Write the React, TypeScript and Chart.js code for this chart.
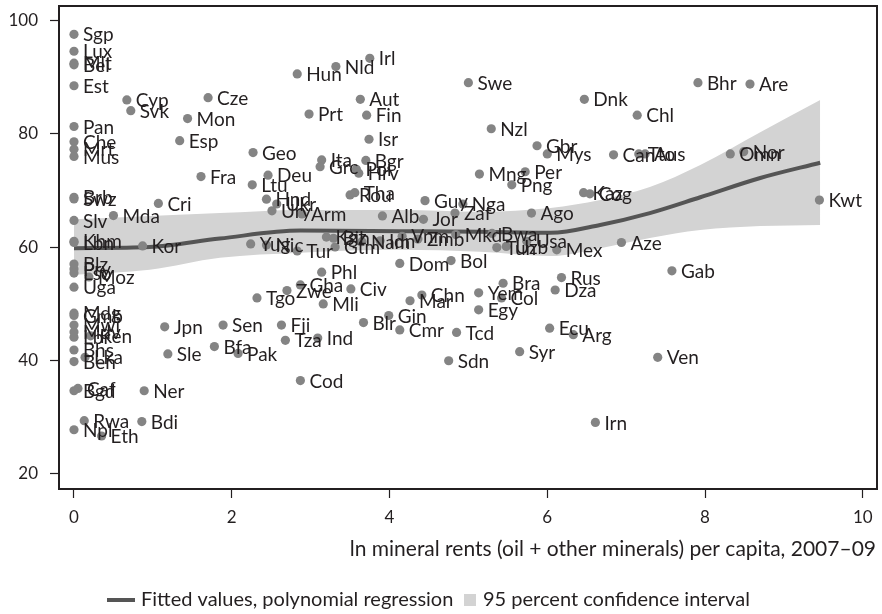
import React, { useEffect, useRef } from "react";
import { Chart, registerables } from "chart.js";

Chart.register(...registerables);

// ---- data ----
const countryCodes = [
  "Sgp","Lux","Mlt","Bel","Est","Pan","Che","Mrt","Mus","Brb","Swz","Slv","Khm","Lbn","Blz","Pry","Lso","Moz","Uga","Mdg","Gmb","Mwi","Mdv","Lbr","Ken","Bhs","Lka","Ben","Caf","Bgd","Rwa","Npl","Eth",
  "Cyp","Svk","Cze","Mon","Esp","Geo","Fra","Deu","Ltu","Cri","Mda","Kor","Yug","Nic","Tur","Hnd","Ukr","Ury","Arm",
  "Hun","Nld","Irl","Swe","Aut","Prt","Fin","Isr","Nzl","Gbr","Mys","Ita","Grc","Bgr","Pol","Hrv","Mng","Per","Rou","Tha","Alb",
  "Kgz","Bih","Gtm","Nam","Idn","Vnm","Zmb","Mkd","Bwa","Guy","Nga","Jor","Zaf","Ago","Png","Tun","Uzb","Usa","Mex","Aze",
  "Dom","Bol","Phl","Gha","Zwe","Civ","Mli","Tgo","Mar","Chn","Yem","Bra","Col","Egy","Gin","Blr","Cmr","Tcd","Ecu","Arg","Rus","Dza","Syr","Sdn","Ind","Tza","Cod",
  "Jpn","Sen","Fji","Sle","Bfa","Pak","Ner","Bdi",
  "Dnk","Chl","Bhr","Are","Can","Tto","Aus","Omn","Nor","Kaz","Cog","Kwt","Gab","Ven","Irn"
];
const rentsLn = [
  0,0,0,0,0,0,0,0,0,0,0,0,0,0,0,0,0,0.19,0,0,0,0,0,0,0.21,0,0.14,0,0.05,0,0.13,0,0.35,
  0.67,0.72,1.70,1.44,1.34,2.27,1.61,2.46,2.26,1.07,0.50,0.87,2.24,2.44,2.83,2.44,2.57,2.51,2.89,
  2.83,3.32,3.75,5.00,3.63,2.98,3.71,3.74,5.29,5.87,6.00,3.14,3.12,3.70,3.58,3.61,5.14,5.72,3.50,3.56,3.91,
  3.20,3.29,3.31,3.65,3.88,4.16,4.36,4.84,5.30,4.45,4.93,4.43,4.83,5.80,5.55,5.36,5.48,5.74,6.12,6.94,
  4.13,4.78,3.14,2.87,2.70,3.51,3.16,2.32,4.26,4.41,5.13,5.44,5.42,5.13,3.99,3.67,4.13,4.85,6.03,6.33,6.18,6.10,5.65,4.75,3.09,2.68,2.87,
  1.15,1.89,2.63,1.19,1.78,2.08,0.89,0.86,
  6.47,7.14,7.91,8.57,6.84,7.16,7.24,8.32,8.49,6.46,6.54,9.45,7.58,7.40,6.61
];
const scores = [
  97.6,94.6,92.5,92.2,88.5,81.3,78.6,77.3,76.0,68.8,68.5,64.7,61.0,60.8,57.0,56.1,55.4,54.7,52.9,48.3,47.9,46.2,45.0,44.05,44.3,41.8,40.5,39.75,35.0,34.6,29.3,27.7,26.6,
  86.0,84.1,86.4,82.7,78.8,76.7,72.45,72.7,71.0,67.7,65.55,60.2,60.55,60.35,59.3,68.45,67.6,66.4,65.85,
  90.6,91.9,93.35,89.05,86.1,83.5,83.3,79.05,80.9,77.9,76.45,75.4,74.2,75.3,73.75,73.05,72.9,73.3,69.2,69.6,65.5,
  61.75,61.55,60.0,60.95,61.1,61.9,61.4,62.2,62.4,68.2,67.6,64.9,66.0,66.0,71.0,59.9,60.1,61.0,59.5,60.8,
  57.1,57.6,55.55,53.3,52.3,52.6,49.95,51.0,50.5,51.5,51.9,53.6,51.0,48.9,47.9,46.65,45.35,44.9,45.65,44.5,54.6,52.4,41.5,39.9,43.9,43.5,36.4,
  45.9,46.2,46.2,41.1,42.4,41.2,34.6,29.15,
  86.1,83.3,89.05,88.8,76.3,76.45,76.45,76.45,76.85,69.6,69.4,68.3,55.8,40.5,29.0
];

const fitX = [0, 0.96, 1.85, 2.87, 4.13, 5.15, 6.04, 6.67, 7.30, 7.94, 8.70, 9.46];
const fitY = [59.8, 60.0, 61.5, 62.9, 62.8, 62.7, 62.5, 63.9, 66.0, 68.8, 72.2, 74.9];
const ciUpper = [64.9, 65.5, 66.0, 66.55, 66.55, 66.25, 66.9, 68.3, 70.6, 74.5, 80.3, 86.0];
const ciLower = [55.1, 56.0, 58.1, 59.0, 59.5, 59.15, 58.4, 59.8, 61.6, 63.0, 63.7, 63.9];

const xTicks = [0, 2, 4, 6, 8, 10];
const yTicks = [20, 40, 60, 80, 100];

const xTitle = "ln mineral rents (oil + other minerals) per capita, 2007–09";
const legendLine = "Fitted values, polynomial regression";
const legendBand = "95 percent confidence interval";

const FONT = "Lato, 'Open Sans', sans-serif";
const INK = "#231f20";

export default function App() {
  const ref = useRef<HTMLCanvasElement | null>(null);

  useEffect(() => {
    const canvas = ref.current;
    if (!canvas) return;

    const points = rentsLn.map((x, i) => ({ x, y: scores[i] }));
    const fit = fitX.map((x, i) => ({ x, y: fitY[i] }));
    const up = fitX.map((x, i) => ({ x, y: ciUpper[i] }));
    const lo = fitX.map((x, i) => ({ x, y: ciLower[i] }));

    const overlay = {
      id: "overlay",
      afterDatasetsDraw(chart: any) {
        const ctx = chart.ctx;
        const meta = chart.getDatasetMeta(0);
        ctx.save();
        ctx.fillStyle = INK;
        ctx.font = `19px ${FONT}`;
        ctx.textAlign = "left";
        ctx.textBaseline = "middle";
        meta.data.forEach((el: any, i: number) => {
          ctx.fillText(countryCodes[i], el.x + 9, el.y + 1);
        });
        ctx.restore();
      },
      afterDraw(chart: any) {
        const ctx = chart.ctx;
        const a = chart.chartArea;
        const l = Math.round(a.left);
        const t = Math.round(a.top);
        const r = Math.round(a.right);
        const b = Math.round(a.bottom);
        ctx.save();
        ctx.fillStyle = INK;
        // frame around the plot region
        ctx.fillRect(l - 1, t - 1, r - l + 2, 2);
        ctx.fillRect(l - 1, b - 1, r - l + 2, 2);
        ctx.fillRect(l - 1, t - 1, 2, b - t + 2);
        ctx.fillRect(r - 1, t - 1, 2, b - t + 2);
        // x title
        ctx.font = `21px ${FONT}`;
        ctx.textAlign = "right";
        ctx.textBaseline = "middle";
        ctx.fillText(xTitle, 876, 549);
        // legend
        ctx.font = `20px ${FONT}`;
        ctx.fillStyle = "#555555";
        ctx.fillRect(107, 598, 28, 4);
        ctx.fillStyle = INK;
        ctx.textAlign = "left";
        ctx.fillText(legendLine, 141, 600);
        ctx.fillStyle = "#d3d3d3";
        ctx.fillRect(464, 594, 12, 12);
        ctx.fillStyle = INK;
        ctx.fillText(legendBand, 483, 600);
        ctx.restore();
      },
    };

    const chart = new Chart(canvas, {
      type: "scatter",
      data: {
        datasets: [
          {
            label: "countries",
            data: points,
            backgroundColor: "#848484",
            borderWidth: 0,
            pointRadius: 4.6,
            pointHoverRadius: 4.6,
          },
          {
            label: legendLine,
            type: "line",
            data: fit,
            borderColor: "#555555",
            borderWidth: 4,
            pointRadius: 0,
            fill: false,
            cubicInterpolationMode: "monotone",
          } as any,
          {
            label: "upper",
            type: "line",
            data: up,
            borderWidth: 0,
            borderColor: "rgba(0,0,0,0)",
            pointRadius: 0,
            backgroundColor: "#d3d3d3",
            fill: "+1",
            cubicInterpolationMode: "monotone",
          } as any,
          {
            label: "lower",
            type: "line",
            data: lo,
            borderWidth: 0,
            borderColor: "rgba(0,0,0,0)",
            pointRadius: 0,
            fill: false,
            cubicInterpolationMode: "monotone",
          } as any,
        ],
      },
      options: {
        animation: false,
        responsive: false,
        devicePixelRatio: 1,
        layout: { padding: { left: 0, top: 6, right: 5, bottom: 0 } },
        plugins: {
          legend: { display: false },
          tooltip: { enabled: false },
          title: { display: false },
        },
        scales: {
          x: {
            type: "linear",
            min: -0.19,
            max: 10.18,
            afterBuildTicks: (s: any) => {
              s.ticks = xTicks.map((v) => ({ value: v }));
            },
            afterFit: (s: any) => {
              s.height = 125;
              s.paddingLeft = 0;
              s.paddingRight = 0;
            },
            grid: {
              drawOnChartArea: false,
              drawTicks: true,
              tickLength: 9,
              tickColor: INK,
              tickWidth: 1.2,
            },
            border: { display: false },
            ticks: {
              color: INK,
              font: { family: FONT, size: 17 },
              padding: 9,
              maxRotation: 0,
              autoSkip: false,
            },
          },
          y: {
            type: "linear",
            min: 17.23,
            max: 102.6,
            afterBuildTicks: (s: any) => {
              s.ticks = yTicks.map((v) => ({ value: v }));
            },
            afterFit: (s: any) => {
              s.width = 59;
              s.paddingTop = 0;
              s.paddingBottom = 0;
            },
            grid: {
              drawOnChartArea: false,
              drawTicks: true,
              tickLength: 9,
              tickColor: INK,
              tickWidth: 1.2,
            },
            border: { display: false },
            ticks: {
              color: INK,
              font: { family: FONT, size: 17 },
              padding: 12,
              autoSkip: false,
            },
          },
        },
      },
      plugins: [overlay],
    } as any);

    return () => chart.destroy();
  }, []);

  return (
    <div style={{ position: "fixed", left: 0, top: 0, width: 882, height: 614, background: "#fff" }}>
      <canvas ref={ref} width={882} height={614} style={{ width: 882, height: 614, display: "block" }} />
    </div>
  );
}
